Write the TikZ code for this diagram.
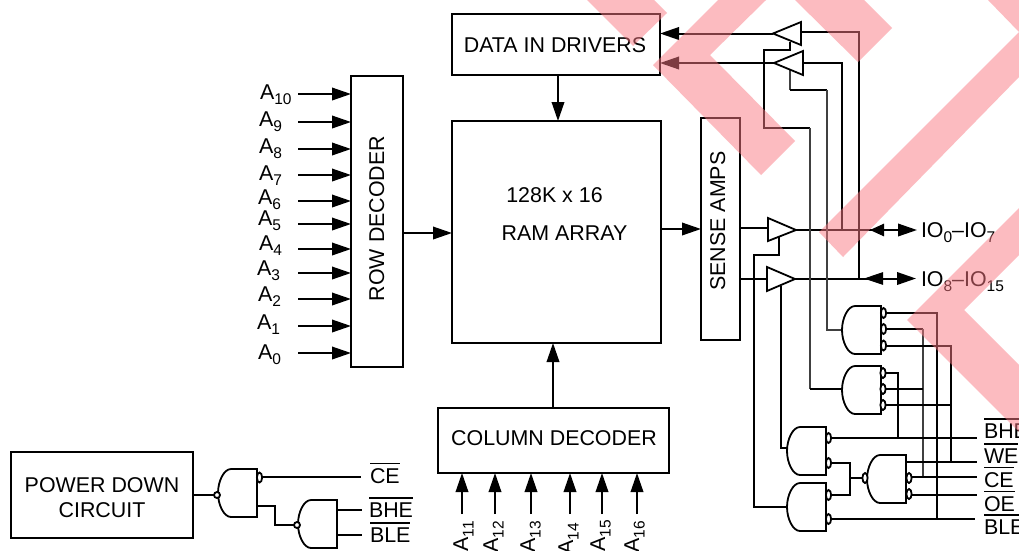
\documentclass[tikz,border=0pt]{standalone}
\usepackage{fontspec}
\setmainfont{Liberation Sans}
\usetikzlibrary{arrows.meta,calc}
\definecolor{wm}{RGB}{250,120,130}
\newcommand{\sbs}[1]{\raisebox{-5.5pt}{\fontsize{15.5}{16}\selectfont #1}}
\newcommand{\ovl}[2][3.6pt]{\vbox{\hrule height 1.6pt\kern #1\hbox{#2}}}
\newcommand{\gate}[2]{\draw[gateline] (#1,#2) -- (#1-26,#2) .. controls (#1-33,#2) and (#1-39,#2+12) .. (#1-39,#2+24) .. controls (#1-39,#2+36) and (#1-33,#2+48) .. (#1-26,#2+48) -- (#1,#2+48) -- cycle;}
\newcommand{\bub}[2]{\draw[gateline,fill=white] (#1,#2) ellipse [x radius=2.6,y radius=5];}
\tikzset{
  box/.style={draw,line width=2.2pt,inner sep=0pt,outer sep=0pt,anchor=north west,font=\fontsize{21.4}{25}\selectfont},
  lab/.style={inner sep=0pt,outer sep=0pt,anchor=base west,font=\fontsize{21.4}{25}\selectfont},
  mid/.style={inner sep=0pt,outer sep=0pt,anchor=base,font=\fontsize{21.4}{25}\selectfont},
  rot/.style={inner sep=0pt,outer sep=0pt,anchor=base east,rotate=90,font=\fontsize{21.4}{25}\selectfont},
  wire/.style={line width=2pt},
  thin wire/.style={line width=1.5pt,black!75},
  arr/.style={wire,-{Triangle[length=19pt,width=12.5pt]}},
  gateline/.style={line width=1.8pt,fill=white,line join=miter},
  band/.style={fill=wm,opacity=0.5,draw=none},
}
\begin{document}
\begin{tikzpicture}[x=1pt,y=-1pt]
\useasboundingbox[fill=white] (0,0) rectangle (1019,550);
% boxes
\node[box,minimum width=208pt,minimum height=61pt] (data) at (452,14) {};
\node[box,minimum width=209pt,minimum height=222pt] (ram) at (452,121) {};
\node[box,minimum width=52pt,minimum height=291pt] (row) at (351,76) {};
\node[box,minimum width=39pt,minimum height=222pt] (sense) at (701,118) {};
\node[box,minimum width=231pt,minimum height=65pt] (col) at (438,408) {};
\node[box,minimum width=182pt,minimum height=86pt] (pd) at (11,452) {};
\node[mid] (tdata) at (555,52) {DATA IN DRIVERS};
\node[mid] (tram1) at (554.5,202) {128K x 16};
\node[mid] (tram2) at (564.5,240) {RAM ARRAY};
\node[mid] (tcol) at (554,445) {COLUMN DECODER};
\node[mid] (tpd1) at (102,492) {POWER DOWN};
\node[mid] (tpd2) at (102,517) {CIRCUIT};
\node[inner sep=0pt,anchor=base,rotate=90,font=\fontsize{21.4}{25}\selectfont] (trow) at (384,218.5) {ROW DECODER};
\node[inner sep=0pt,anchor=base,rotate=90,font=\fontsize{21.4}{25}\selectfont] (tsense) at (725,221) {SENSE AMPS};
% row address
\foreach \n/\sub/\lx/\base/\wy in {a10/10/260/99/94,a9/9/259/126/122,a8/8/259/153/149,a7/7/259/180/175,a6/6/258/204/201,a5/5/258/225/224,a4/4/259/250/249,a3/3/257/275/273,a2/2/258/301/299,a1/1/257/329/326,a0/0/258/359/353}{
  \node[lab] (l\n) at (\lx,\base) {A\sbs{\sub}};
  \coordinate (\n) at (298,\wy);
  \draw[arr] (\n) -- (\n -| row.west);
}
% column address
\foreach \n/\sub/\bx/\ty/\wx in {a11/11/468/521/462,a12/12/498/521/495,a13/13/535/521/531,a14/14/573/523/570,a15/15/605/520/602,a16/16/639/521/637}{
  \node[rot] (l\n) at (\bx,\ty) {A\sbs{\sub}};
  \coordinate (\n) at (\wx,514);
  \draw[arr] (\n) -- (\n |- col.south);
}
% main arrows
\coordinate (rowout) at (403,233);
\draw[arr] (rowout) -- (rowout -| ram.west);
\coordinate (datain) at (558,75);
\draw[arr] (datain) -- (datain |- ram.north);
\coordinate (ramout) at (661,229);
\draw[arr] (ramout) -- (ramout -| sense.west);
\coordinate (colout) at (553,408);
\draw[arr] (colout) -- (colout |- ram.south);
% output wires to the drivers
\coordinate (t1a) at (773,33.5);
\coordinate (t2a) at (774,63);
\draw[arr] (t1a) -- (t1a -| data.east);
\draw[arr] (t2a) -- (t2a -| data.east);
\coordinate (t1b) at (801,32);
\coordinate (t2b) at (803,63);
\coordinate (io0j) at (842,230);
\coordinate (io8j) at (859,278.5);
\draw[wire] (t1b) -| (io8j);
\draw[wire] (t2b) -| (io0j);
% sense amp wires
\coordinate (t3i) at (768,228);
\coordinate (t4i) at (767,279);
\coordinate (t3o) at (796,230);
\coordinate (t4o) at (795,278.5);
\draw[wire] (t3i -| sense.east) -- (t3i);
\draw[wire] (t4i -| sense.east) -- (t4i);
\coordinate (io0e) at (917,230);
\coordinate (io8e) at (916,278.5);
\coordinate (io0l) at (870,230);
\coordinate (io8l) at (864,278.5);
\draw[wire,-{Triangle[length=19pt,width=12.5pt]}] (t3o) -- (io0e);
\draw[wire,-{Triangle[length=19pt,width=12.5pt]}] (t4o) -- (io8e);
\draw[line width=1pt,-{Triangle[length=14pt,width=12.5pt]}] ($(io0l)+(14,0)$) -- (io0l);
\draw[line width=1pt,-{Triangle[length=19pt,width=12.5pt]}] ($(io8l)+(20,0)$) -- (io8l);
\node[lab] (lio0) at (921,237) {IO\sbs{0}–IO\sbs{7}};
\node[lab] (lio8) at (921,286) {IO\sbs{8}–IO\sbs{15}};
% control wires
\draw[wire] (790,42) -- (790,50) -- (764,50) -- (764,128);
\draw[wire] (763,128) -- (810,128);
\draw[thin wire] (810,128) -- (810,389);
\draw[wire] (810,389) -- (841,389);
\draw[thin wire] (790,70) -- (790,90);
\draw[wire] (790,90) -- (827,90);
\draw[thin wire] (827,90) -- (827,330) -- (842,330);
\draw[wire] (779,236) -- (779,255) -- (753.5,255) -- (753.5,507) -- (788,507);
\draw[wire] (781,286) -- (781,448) -- (788,448);
% buffers
\draw[gateline] (801,22) -- (773,33.5) -- (801,45) -- cycle;
\draw[gateline] (803,51) -- (774,63) -- (803,75) -- cycle;
\draw[gateline] (768,218) -- (796,230) -- (768,241) -- cycle;
\draw[gateline] (767,267) -- (795,279) -- (767,291) -- cycle;
% logic outputs
\draw[wire] (884,313) -- (937,313) -- (937,519);
\draw[wire] (884,329) -- (923,329);
\draw[thin wire] (923,329) -- (923,477);
\draw[wire] (884,345.5) -- (951,345.5) -- (951,462);
\draw[wire] (883,373) -- (898,373) -- (898,438);
\draw[wire] (883,389) -- (923,389);
\draw[wire] (883,405) -- (951,405);
\draw[wire] (829,438) -- (977,438);
\draw[wire] (829,463) -- (850,463) -- (850,495) -- (829,495);
\draw[wire] (829,519) -- (975,519);
\draw[wire] (850,478) -- (863,478);
\draw[wire] (906,462) -- (977,462);
\draw[wire] (910,477) -- (977,477);
\draw[wire] (910,495) -- (977,495);
% logic gates
\gate{881}{306}\gate{881}{366}\gate{826}{427}\gate{826}{483}\gate{906}{455}
\bub{883.5}{313}\bub{883.5}{329}\bub{883.5}{345.5}
\bub{883}{373}\bub{883}{389}\bub{883}{405}
\bub{828.5}{438}\bub{828.5}{463}\bub{828.5}{495}\bub{828.5}{519}
\bub{909}{478}\bub{909}{494}\bub{865}{478}
\node[lab] (lbhe) at (984,438) {\ovl{BHE}};
\node[lab] (lwe) at (984,463) {\ovl{WE}};
\node[lab] (lce) at (984,487) {\ovl{CE}};
\node[lab] (loe) at (984,511) {\ovl{OE}};
\node[lab] (lble) at (984,534) {\ovl{BLE}};
% power down logic
\coordinate (pdo) at (193,495);
\draw[wire] (pdo) -- (215,495);
\draw[wire] (262,477) -- (361,477);
\draw[wire] (257,506) -- (275,506) -- (275,525) -- (295,525);
\draw[wire] (337,510) -- (362,510);
\draw[wire] (337,535) -- (362,535);
\gate{257}{469}\gate{337}{500}
\draw[gateline] (217,495) circle [radius=3];
\draw[gateline] (297,525) circle [radius=3];
\bub{259.5}{477.5}
\node[lab] (lce2) at (370,483) {\ovl{CE}};
\node[lab] (lbhe2) at (369,517) {\ovl{BHE}};
\node[lab] (lble2) at (370,542) {\ovl{BLE}};
% watermark bands
\fill[band] (587,0) -- (654,0) -- (667,13) -- (633,46) -- cycle;
\fill[band] (653,65) -- (718,0) -- (766,0) -- (710,55) -- (795,141) -- (761,175) -- cycle;
\fill[band] (795,0) -- (864,0) -- (892,28) -- (858,62) -- cycle;
\fill[band] (988,0) -- (1019,0) -- (1019,77) -- (843,257) -- (819,232) -- (1019,32) -- cycle;
\fill[band] (907,320) -- (1019,208) -- (1019,255) -- (964,310) -- (1019,365) -- (1019,432) -- cycle;
\end{tikzpicture}
\end{document}
